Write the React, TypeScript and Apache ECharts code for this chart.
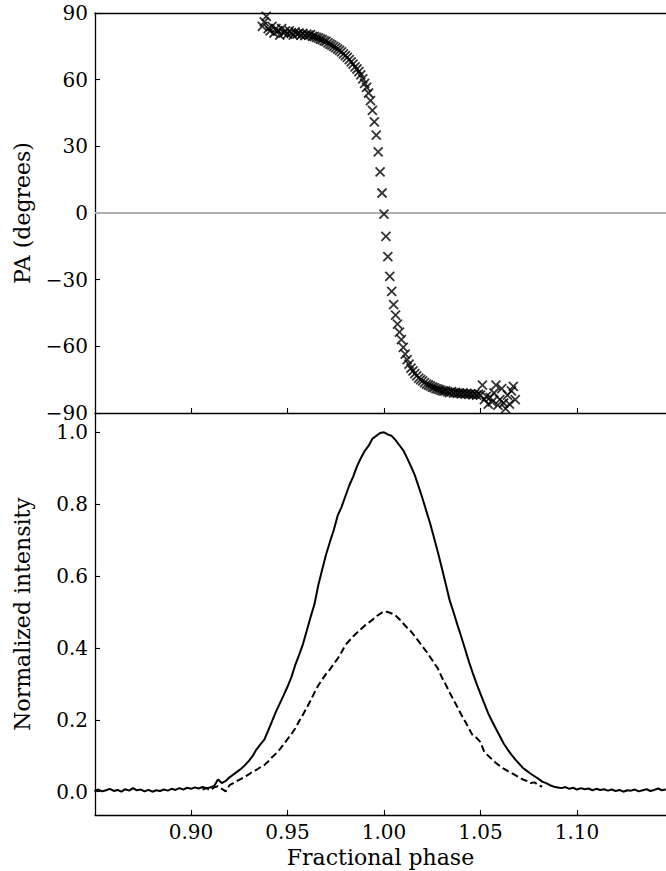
import React, { useEffect, useRef } from 'react';
import * as echarts from 'echarts';

// ---- axis ranges and ticks ----
const X_MIN = 0.8503;
const X_MAX = 1.1461;
const xTickValues = [0.9, 0.95, 1.0, 1.05, 1.1];
const PA_MIN = -90;
const PA_MAX = 90;
const PA_INTERVAL = 30;
const I_MIN = -0.0648;
const I_MAX = 1.0537;
const intensityTickValues = [0, 0.2, 0.4, 0.6, 0.8, 1.0];

// ---- PA (degrees), one value per phase bin ----
const paStart = 0.937;
const paStep = 0.001;
const paDegrees = [
  84, 86, 88.5, 83, 82, 84, 81, 83, 82, 80,
  83, 81, 82, 80.5, 82, 81, 80, 81.5, 80.5, 81,
  80, 80.8, 79.8, 80.5, 80, 80.3, 79.5, 79.5, 79, 78.8,
  78.3, 78, 77.5, 77.2, 76.6, 76, 75.5, 75, 74.4, 73.8,
  73.2, 72.5, 71.6, 70.8, 70, 69, 68, 67, 65.8, 64.8,
  63.6, 62.2, 60.4, 58.3, 56.5, 54, 50.6, 46.2, 41, 35,
  27.5, 18.5, 9, -0.5, -10.5, -19.6, -28.5, -35.3, -41.2, -46,
  -50, -53.6, -57, -60.5, -63.5, -66, -68, -69.8, -71, -72.3,
  -73.3, -74.3, -75, -75.5, -76.3, -77, -77.4, -77.8, -78.3, -78.6,
  -79, -79.3, -79.6, -79.9, -80.2, -80, -80.5, -80.8, -80.4, -81,
  -80.7, -81.2, -80.9, -81.4, -81, -81.5, -81.2, -81.6, -81.3, -81.8,
  -81.4, -82, -81.5, -82, -77.5, -84, -82.5, -86, -83, -85,
  -81, -77.5, -86.5, -84, -79, -85.5, -88, -82, -86, -80,
  -78, -84,
];

// ---- total intensity (solid), phase 0.850 .. 1.146 step 0.002 ----
const profileStep = 0.002;
const totalStart = 0.85;
const totalIntensity = [
  0.002, 0.006, 0.001, 0.004, 0.008, 0.002, 0.005, 0.0, 0.007, 0.003,
  0.01, 0.004, 0.006, 0.001, 0.005, 0.0, 0.004, 0.002, 0.006, 0.003,
  0.008, 0.005, 0.01, 0.006, 0.011, 0.008, 0.012, 0.009, 0.013, 0.01,
  0.012, 0.016, 0.034, 0.024, 0.03, 0.04, 0.048, 0.056, 0.064, 0.074,
  0.086, 0.1, 0.118, 0.132, 0.145, 0.17, 0.196, 0.222, 0.245, 0.268,
  0.292, 0.318, 0.352, 0.38, 0.41, 0.448, 0.486, 0.522, 0.575, 0.618,
  0.66, 0.695, 0.728, 0.768, 0.792, 0.822, 0.852, 0.876, 0.905, 0.928,
  0.948, 0.962, 0.982, 0.99, 0.998, 1.0, 0.994, 0.99, 0.978, 0.964,
  0.95, 0.928, 0.905, 0.88, 0.848, 0.815, 0.78, 0.745, 0.705, 0.665,
  0.622, 0.578, 0.533, 0.5, 0.465, 0.432, 0.397, 0.362, 0.33, 0.3,
  0.272, 0.245, 0.218, 0.196, 0.175, 0.155, 0.134, 0.118, 0.103, 0.09,
  0.078, 0.066, 0.058, 0.05, 0.043, 0.036, 0.028, 0.024, 0.018, 0.014,
  0.012, 0.01, 0.013, 0.008, 0.011, 0.006, 0.01, 0.007, 0.009, 0.004,
  0.008, 0.005, 0.007, 0.003, 0.006, 0.002, 0.005, 0.0, 0.004, 0.003,
  0.006, 0.001, 0.004, 0.007, 0.002, 0.005, 0.009, 0.004, 0.006,
];

// ---- linear polarisation (dashed), phase 0.906 .. 1.082 step 0.002 ----
const linearStart = 0.906;
const linearIntensity = [
  0.006, 0.01, 0.004, 0.012, 0.015, 0.008, 0.001, 0.018, 0.024, 0.03,
  0.036, 0.042, 0.048, 0.056, 0.061, 0.068, 0.074, 0.084, 0.096, 0.106,
  0.118, 0.132, 0.146, 0.16, 0.176, 0.196, 0.214, 0.234, 0.254, 0.276,
  0.296, 0.312, 0.328, 0.34, 0.356, 0.37, 0.388, 0.408, 0.42, 0.432,
  0.442, 0.452, 0.462, 0.47, 0.478, 0.488, 0.495, 0.502, 0.5, 0.496,
  0.49, 0.48, 0.468, 0.456, 0.446, 0.432, 0.418, 0.404, 0.39, 0.374,
  0.358, 0.342, 0.318, 0.298, 0.276, 0.256, 0.236, 0.215, 0.196, 0.176,
  0.156, 0.15, 0.138, 0.11, 0.1, 0.09, 0.08, 0.072, 0.064, 0.058,
  0.052, 0.046, 0.04, 0.034, 0.03, 0.024, 0.026, 0.018, 0.014,
];

const toPairs = (start: number, step: number, vals: number[]) =>
  vals.map((v, i) => [Number((start + i * step).toFixed(4)), v]);

const FONT = 'DejaVu Serif';
const INK = '#000';
const spine = { show: true, onZero: false, lineStyle: { color: INK, width: 1.3 } };
const tickStyle = { color: INK, width: 1.1 };
const labelStyle = { fontFamily: FONT, fontSize: 20, color: INK };
const nameStyle = { fontFamily: FONT, fontSize: 22, color: INK };

const minus = (s: string) => s.replace('-', '\u2212');

function buildOption() {
  return {
    animation: false,
    backgroundColor: '#fff',
    textStyle: { fontFamily: FONT },
    grid: [
      { left: 95, top: 13, width: 571, height: 400 },
      { left: 95, top: 413, width: 571, height: 402 },
    ],
    xAxis: [
      {
        gridIndex: 0, type: 'value', min: X_MIN, max: X_MAX, position: 'bottom',
        axisLine: spine,
        axisTick: { show: true, inside: true, length: 5, customValues: xTickValues, lineStyle: tickStyle },
        axisLabel: { show: false, customValues: xTickValues },
        splitLine: { show: false },
      },
      {
        gridIndex: 0, type: 'value', min: X_MIN, max: X_MAX, position: 'top',
        axisLine: spine, axisTick: { show: false }, axisLabel: { show: false }, splitLine: { show: false },
      },
      {
        gridIndex: 1, type: 'value', min: X_MIN, max: X_MAX, position: 'bottom',
        axisLine: spine,
        axisTick: { show: true, inside: true, length: 5, customValues: xTickValues, lineStyle: tickStyle },
        axisLabel: {
          ...labelStyle, margin: 7, customValues: xTickValues,
          formatter: (v: number) => v.toFixed(2),
        },
        splitLine: { show: false },
        name: 'Fractional phase', nameLocation: 'middle', nameGap: 31, nameTextStyle: nameStyle,
      },
    ],
    yAxis: [
      {
        gridIndex: 0, type: 'value', min: PA_MIN, max: PA_MAX, interval: PA_INTERVAL,
        axisLine: spine,
        axisTick: { show: true, inside: true, length: 5, lineStyle: tickStyle },
        axisLabel: { ...labelStyle, margin: 7, formatter: (v: number) => minus(String(v)) },
        splitLine: { show: false },
        name: 'PA (degrees)', nameLocation: 'middle', nameGap: 62, nameTextStyle: nameStyle,
      },
      {
        gridIndex: 1, type: 'value', min: I_MIN, max: I_MAX,
        axisLine: spine,
        axisTick: { show: true, inside: true, length: 5, customValues: intensityTickValues, lineStyle: tickStyle },
        axisLabel: {
          ...labelStyle, margin: 7, customValues: intensityTickValues,
          formatter: (v: number) => v.toFixed(1),
        },
        splitLine: { show: false },
        name: 'Normalized intensity', nameLocation: 'middle', nameGap: 62, nameTextStyle: nameStyle,
      },
    ],
    series: [
      {
        type: 'scatter', xAxisIndex: 0, yAxisIndex: 0,
        data: toPairs(paStart, paStep, paDegrees),
        symbol: 'path://M0,0L10,10M10,0L0,10',
        symbolSize: 9,
        itemStyle: { color: 'none', borderColor: INK, borderWidth: 1.8 },
        z: 3,
        markLine: {
          silent: true, symbol: 'none', label: { show: false },
          lineStyle: { color: '#b0b0b0', width: 2, type: 'solid' },
          data: [{ yAxis: 0 }],
          z: 1,
        },
      },
      {
        type: 'line', xAxisIndex: 2, yAxisIndex: 1,
        data: toPairs(totalStart, profileStep, totalIntensity),
        symbol: 'none', lineStyle: { color: INK, width: 2 },
      },
      {
        type: 'line', xAxisIndex: 2, yAxisIndex: 1,
        data: toPairs(linearStart, profileStep, linearIntensity),
        symbol: 'none', lineStyle: { color: INK, width: 2, type: [7, 3.5] },
      },
    ],
  };
}

export default function App() {
  const ref = useRef<HTMLDivElement>(null);
  useEffect(() => {
    if (!ref.current) return;
    const chart = echarts.init(ref.current, null, { renderer: 'svg' });
    chart.setOption(buildOption() as any);
    return () => chart.dispose();
  }, []);
  return (
    <div
      ref={ref}
      style={{ position: 'absolute', left: 0, top: 0, width: 666, height: 871, background: '#fff' }}
    />
  );
}
